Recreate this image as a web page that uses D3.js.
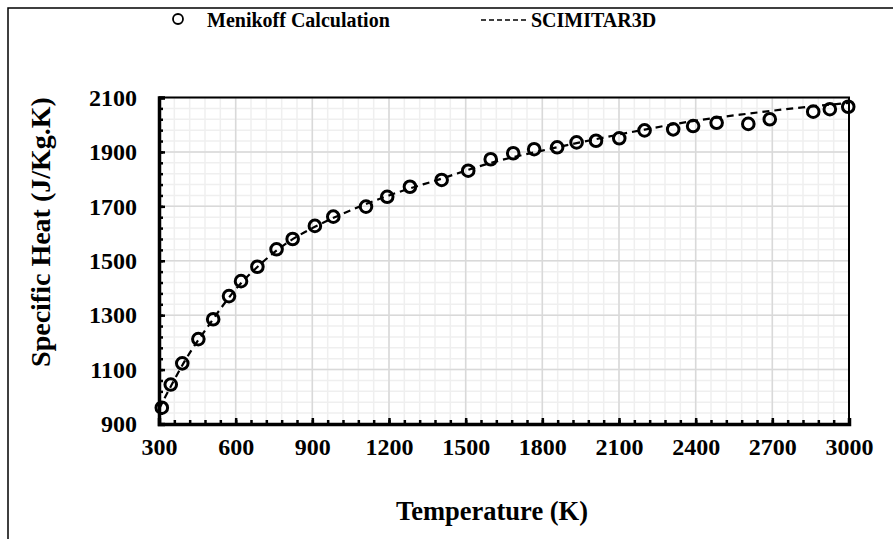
<!DOCTYPE html>
<html><head><meta charset="utf-8">
<script src="https://cdn.jsdelivr.net/npm/d3@7"></script>
<style>
html,body{margin:0;padding:0;background:#fff;}
</style></head>
<body><svg id="chart" width="893" height="539"></svg>
<script>
// Menikoff Calculation (points)
const menikoffT  = [311,346,391,454,512,574,621,685,760,823,910,982,1110,1193,1282,1406,1510,1598,1686,1768,1858,1934,2010,2101,2200,2312,2390,2482,2606,2690,2860,2925,2997];
const menikoffCp = [960,1045,1123,1212,1285,1370,1425,1478,1542,1580,1628,1662,1699,1735,1772,1797,1831,1873,1895,1910,1917,1935,1941,1950,1979,1983,1995,2007,2003,2020,2048,2057,2066];
// SCIMITAR3D (dashed line)
const scimitarT  = [300,350,400,500,600,700,800,900,1000,1200,1400,1600,1800,2000,2200,2400,2600,2800,3000];
const scimitarCp = [955,1045,1130,1270,1395,1490,1565,1620,1665,1740,1800,1860,1905,1945,1982,2015,2040,2062,2080];
const xTicks = [300,600,900,1200,1500,1800,2100,2400,2700,3000];
const yTicks = [900,1100,1300,1500,1700,1900,2100];
const xMinor = d3.range(300,3001,60);
const yMinor = d3.range(900,2101,40);

const svg = d3.select("#chart");
const L=159,R=849,T=97.5,B=424;
const x = d3.scaleLinear().domain([300,3000]).range([L,R]);
const y = d3.scaleLinear().domain([900,2100]).range([B,T]);

function txt(sel,size){
  return sel.style("font-family",'"Liberation Serif"').style("font-weight","bold").style("font-size",size).attr("fill","#000");
}

// outer frame
svg.append("path").attr("d","M8,539V8H893").attr("fill","none").attr("stroke","#000").attr("stroke-width",1.5);

// grid
const g = svg.append("g");
g.selectAll(".vm").data(xMinor).join("line").attr("x1",d=>x(d)).attr("x2",d=>x(d)).attr("y1",T).attr("y2",B).attr("stroke","#efefef").attr("stroke-width",1.5);
g.selectAll(".hm").data(yMinor).join("line").attr("y1",d=>y(d)).attr("y2",d=>y(d)).attr("x1",L).attr("x2",R).attr("stroke","#efefef").attr("stroke-width",1.5);
g.selectAll(".vM").data(xTicks).join("line").attr("x1",d=>x(d)).attr("x2",d=>x(d)).attr("y1",T).attr("y2",B).attr("stroke","#d9d9d9").attr("stroke-width",1.5);
g.selectAll(".hM").data(yTicks).join("line").attr("y1",d=>y(d)).attr("y2",d=>y(d)).attr("x1",L).attr("x2",R).attr("stroke","#d9d9d9").attr("stroke-width",1.5);

// frame top/right
svg.append("path").attr("d",`M${L},${T}H${R}V${B}`).attr("fill","none").attr("stroke","#000").attr("stroke-width",2);

// axes
const xAxis = svg.append("g").attr("transform",`translate(0,${B})`)
  .call(d3.axisBottom(x).tickValues(xTicks).tickSize(-6).tickPadding(14).tickFormat(d3.format("d")));
svg.append("g").attr("transform",`translate(0,${B})`)
  .call(d3.axisBottom(x).tickValues(xMinor).tickSize(-4).tickFormat(""))
  .call(a=>a.select(".domain").remove()).selectAll("line").attr("stroke-width",2.5);
const yAxis = svg.append("g").attr("transform",`translate(${L},0)`)
  .call(d3.axisLeft(y).tickValues(yTicks).tickSize(-6).tickPadding(22).tickFormat(d3.format("d")));
svg.append("g").attr("transform",`translate(${L},0)`)
  .call(d3.axisLeft(y).tickValues(yMinor).tickSize(-4).tickFormat(""))
  .call(a=>a.select(".domain").remove()).selectAll("line").attr("stroke-width",2.5);
[xAxis,yAxis].forEach(a=>{
  a.select(".domain").attr("stroke","#000").attr("stroke-width",3.5);
  a.selectAll(".tick line").attr("stroke","#000").attr("stroke-width",2.5);
  txt(a.selectAll("text"),"24px");
});

// line
const line = d3.line().x((d,i)=>x(scimitarT[i])).y(d=>y(d)).curve(d3.curveMonotoneX);
svg.append("path").datum(scimitarCp).attr("d",line).attr("fill","none").attr("stroke","#000").attr("stroke-width",2.2).attr("stroke-dasharray","7,5");

// points
svg.append("g").selectAll("circle").data(menikoffCp).join("circle")
  .attr("cx",(d,i)=>x(menikoffT[i])).attr("cy",d=>y(d)).attr("r",5.8)
  .attr("fill","none").attr("stroke","#000").attr("stroke-width",3);

// axis titles
txt(svg.append("text").attr("x",492).attr("y",520).attr("text-anchor","middle"),"26.5px").text("Temperature (K)");
txt(svg.append("text").attr("transform","translate(50,232) rotate(-90)").attr("text-anchor","middle"),"28px").text("Specific Heat (J/Kg.K)");

// legend
svg.append("circle").attr("cx",178).attr("cy",19).attr("r",5).attr("fill","none").attr("stroke","#000").attr("stroke-width",1.8);
txt(svg.append("text").attr("x",207).attr("y",27),"20px").text("Menikoff Calculation");
svg.append("line").attr("x1",481).attr("x2",528).attr("y1",20).attr("y2",20).attr("stroke","#000").attr("stroke-width",1.5).attr("stroke-dasharray","5,3");
txt(svg.append("text").attr("x",531).attr("y",27),"20px").text("SCIMITAR3D");
</script></body></html>
